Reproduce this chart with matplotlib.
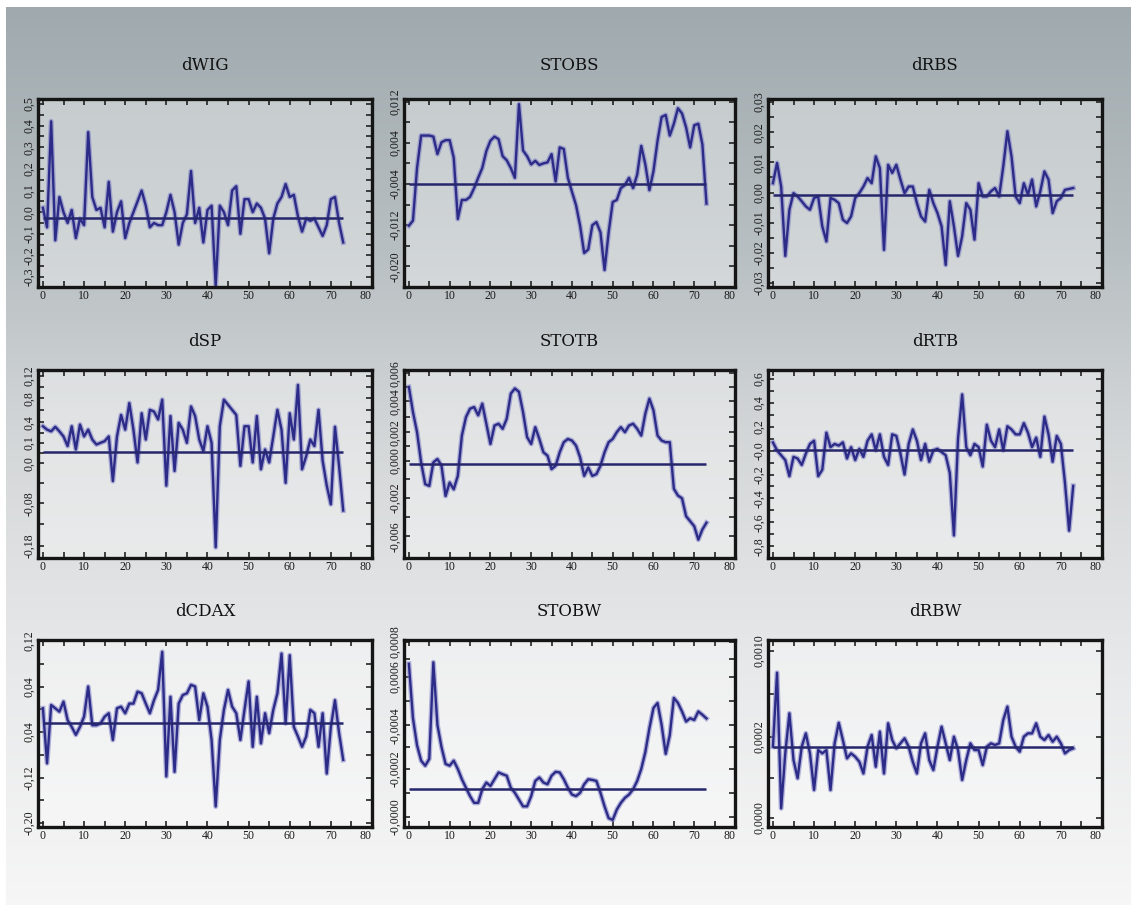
import numpy as np
import matplotlib.pyplot as plt

W, H = 1131, 905
plt.rcParams['font.family'] = ['DejaVu Serif']

# -----------------------------
# series (74 obs each)
# -----------------------------
dwig = [0.02, -0.07, 0.42, -0.13, 0.07, 0.00, -0.05, 0.01, -0.12, -0.03,
        -0.06, 0.37, 0.07, 0.01, 0.02, -0.07, 0.14, -0.09, 0.00, 0.05,
        -0.12, -0.05, 0.00, 0.05, 0.10, 0.03, -0.07, -0.05, -0.06, -0.06,
        0.00, 0.08, 0.00, -0.15, -0.05, -0.01, 0.19, -0.05, 0.02, -0.14,
        0.01, 0.03, -0.34, 0.03, 0.00, -0.06, 0.10, 0.12, -0.10, 0.06,
        0.06, 0.00, 0.04, 0.02, -0.03, -0.19, -0.03, 0.04, 0.07, 0.13,
        0.07, 0.08, -0.02, -0.09, -0.03, -0.04, -0.03, -0.07, -0.11, -0.06,
        0.06, 0.07, -0.05, -0.14]

stobs = [-0.0121, -0.0111, -0.0009, 0.0054, 0.0054, 0.0054, 0.0052, 0.0018, 0.0041, 0.0045,
         0.0045, 0.0011, -0.0108, -0.0071, -0.0071, -0.0065, -0.0048, -0.0028, -0.0009, 0.0024,
         0.0044, 0.0052, 0.0047, 0.0014, 0.0006, -0.0009, -0.0028, 0.0115, 0.0025, 0.0014,
         -0.0002, 0.0005, -0.0003, 0.0000, 0.0002, 0.0018, -0.0035, 0.0031, 0.0028, -0.0028,
         -0.0055, -0.0081, -0.0121, -0.0174, -0.0167, -0.0120, -0.0114, -0.0134, -0.0207, -0.0134,
         -0.0075, -0.0071, -0.0048, -0.0042, -0.0028, -0.0048, -0.0022, 0.0034, -0.0002, -0.0052,
         -0.0015, 0.0044, 0.0090, 0.0094, 0.0054, 0.0077, 0.0107, 0.0097, 0.0070, 0.0031,
         0.0074, 0.0077, 0.0037, -0.0078]

drbs = [0.0031, 0.0098, 0.0020, -0.0210, -0.0057, -0.0002, -0.0013, -0.0029, -0.0046, -0.0057,
        -0.0018, -0.0013, -0.0112, -0.0162, -0.0018, -0.0024, -0.0035, -0.0090, -0.0101, -0.0079,
        -0.0018, -0.0002, 0.0020, 0.0048, 0.0031, 0.0120, 0.0081, -0.0190, 0.0092, 0.0065,
        0.0092, 0.0043, -0.0002, 0.0020, 0.0020, -0.0035, -0.0079, -0.0096, 0.0009, -0.0035,
        -0.0068, -0.0112, -0.0240, -0.0029, -0.0112, -0.0210, -0.0145, -0.0035, -0.0057, -0.0156,
        0.0031, -0.0013, -0.0013, 0.0004, 0.0015, -0.0013, 0.0087, 0.0203, 0.0120, -0.0013,
        -0.0035, 0.0031, -0.0007, 0.0043, -0.0046, 0.0004, 0.0070, 0.0043, -0.0068, -0.0029,
        -0.0018, 0.0009, 0.0012, 0.0015]

dsp = [0.031, 0.025, 0.022, 0.030, 0.022, 0.013, -0.004, 0.031, -0.010, 0.034,
       0.013, 0.025, 0.0075, -0.0013, 0.0017, 0.0046, 0.013, -0.066, 0.013, 0.051,
       0.025, 0.072, 0.025, -0.033, 0.054, 0.0075, 0.060, 0.057, 0.043, 0.078,
       -0.074, 0.049, -0.048, 0.037, 0.025, 0.0017, 0.066, 0.049, 0.0075, -0.013,
       0.031, 0.0017, -0.183, 0.031, 0.078, 0.069, 0.060, 0.051, -0.039, 0.031,
       0.031, -0.033, 0.049, -0.045, -0.010, -0.033, 0.013, 0.060, 0.025, -0.069,
       0.054, 0.0075, 0.104, -0.045, -0.022, 0.0075, -0.004, 0.060, -0.030, -0.074,
       -0.107, 0.030, -0.040, -0.118]

stotb = [0.0050, 0.00315, 0.00167, -0.00056, -0.00216, -0.00229, -0.00056, -0.00031, -0.0008, -0.00303,
         -0.00204, -0.00254, -0.00155, 0.00142, 0.00278, 0.0034, 0.00352, 0.00291, 0.00377, 0.00229,
         0.0008, 0.00216, 0.00229, 0.00192, 0.00266, 0.00451, 0.00489, 0.00464, 0.00315, 0.0013,
         0.0008, 0.00204, 0.00117, 0.00019, -0.00006, -0.00105, -0.0008, 0.00019, 0.00093, 0.00117,
         0.00105, 0.00068, -0.00019, -0.00155, -0.00093, -0.00155, -0.00142, -0.0008, 0.00019, 0.00093,
         0.00117, 0.00167, 0.00204, 0.00167, 0.00216, 0.00229, 0.00192, 0.00142, 0.00303, 0.00414,
         0.00328, 0.00142, 0.00105, 0.00093, 0.00093, -0.0025, -0.0030, -0.0032, -0.00452, -0.00489,
         -0.00526, -0.00625, -0.0055, -0.0050]

drtb = [0.069, 0.002, -0.039, -0.079, -0.214, -0.052, -0.066, -0.12, -0.025, 0.056,
        0.083, -0.214, -0.16, 0.15, 0.029, 0.056, 0.042, 0.069, -0.066, 0.029,
        -0.079, 0.015, -0.052, 0.083, 0.136, 0.002, 0.136, -0.052, -0.12, 0.136,
        0.123, -0.025, -0.20, 0.056, 0.177, 0.083, -0.079, 0.056, -0.093, 0.002,
        0.015, -0.012, -0.039, -0.187, -0.71, 0.10, 0.47, 0.029, -0.039, 0.056,
        0.029, -0.133, 0.217, 0.083, 0.029, 0.177, 0.002, 0.204, 0.177, 0.136,
        0.136, 0.23, 0.15, 0.029, 0.109, -0.052, 0.285, 0.136, -0.093, 0.123,
        0.056, -0.27, -0.67, -0.295]

dcdax = [0.0017, -0.095, 0.0075, 0.0017, -0.0042, 0.0134, -0.019, -0.031, -0.045, -0.031,
         -0.013, 0.040, -0.028, -0.028, -0.025, -0.013, -0.007, -0.054, 0.0017, 0.0046,
         -0.007, 0.010, 0.010, 0.031, 0.028, 0.010, -0.007, 0.016, 0.034, 0.101,
         -0.118, 0.022, -0.110, 0.010, 0.025, 0.028, 0.043, 0.040, -0.019, 0.028,
         0.0046, -0.054, -0.171, -0.054, -0.001, 0.034, 0.0046, -0.007, -0.054, -0.001,
         0.049, -0.066, 0.022, -0.060, -0.007, -0.042, -0.001, 0.028, 0.098, -0.025,
         0.095, -0.031, -0.048, -0.066, -0.048, -0.001, -0.007, -0.066, -0.007, -0.113,
         -0.031, 0.016, -0.042, -0.089]

stobw = [0.00070, 0.000451, 0.000327, 0.000257, 0.000234, 0.000265, 0.000707, 0.00042, 0.000319, 0.000242,
         0.000234, 0.000257, 0.000219, 0.000172, 0.000133, 0.000095, 0.000064, 0.000064, 0.000126, 0.000157,
         0.000141, 0.000172, 0.000203, 0.000195, 0.000188, 0.000133, 0.00011, 0.000079, 0.000048, 0.000048,
         0.000095, 0.000164, 0.00018, 0.000157, 0.000149, 0.000188, 0.000206, 0.000203, 0.000172, 0.000133,
         0.000102, 0.000095, 0.00011, 0.000149, 0.000172, 0.000169, 0.000164, 0.00011, 0.000048, -0.000006,
         -0.000014, 0.000033, 0.000064, 0.000087, 0.000102, 0.000126, 0.000164, 0.000219, 0.000296, 0.000405,
         0.000498, 0.000521, 0.00042, 0.000288, 0.000374, 0.000544, 0.000521, 0.000482, 0.000436, 0.000451,
         0.000443, 0.000482, 0.000467, 0.00045]

drbw = [0.000427, 0.00087, 0.000058, 0.000387, 0.000627, 0.000347, 0.000238, 0.000427, 0.000507, 0.000387,
        0.000168, 0.000407, 0.000387, 0.000407, 0.000168, 0.000447, 0.00057, 0.000467, 0.000357, 0.000387,
        0.000367, 0.000337, 0.000267, 0.000427, 0.000497, 0.000307, 0.000517, 0.000267, 0.000567, 0.000467,
        0.000417, 0.000447, 0.000477, 0.000427, 0.000337, 0.000267, 0.000447, 0.000507, 0.000347, 0.000287,
        0.000427, 0.000547, 0.000447, 0.000347, 0.000487, 0.000407, 0.000228, 0.000347, 0.000447, 0.000407,
        0.000407, 0.000317, 0.000427, 0.000447, 0.000437, 0.000447, 0.000587, 0.000667, 0.000487, 0.000427,
        0.000397, 0.000487, 0.000507, 0.000507, 0.000567, 0.000487, 0.000467, 0.000497, 0.000457, 0.000487,
        0.000447, 0.000387, 0.000407, 0.000417]

names = ["dWIG", "STOBS", "dRBS", "dSP", "STOTB", "dRTB", "dCDAX", "STOBW", "dRBW"]
series = [dwig, stobs, drbs, dsp, stotb, drtb, dcdax, stobw, drbw]
# horizontal reference line of each panel
levels = [-0.026, -0.004, -0.0007, -0.0147, -0.00068, 0.007, -0.0247, 0.000129, 0.000427]

# y tick labels exactly as printed (the original has some odd ones)
ytick_pos = [
    [0.5, 0.4, 0.3, 0.2, 0.1, 0.0, -0.1, -0.2, -0.3],
    [0.012, 0.004, -0.004, -0.012, -0.020],
    [0.03, 0.02, 0.01, 0.0, -0.01, -0.02, -0.03],
    [0.12, 0.0807, 0.038, 0.0017, -0.0347, -0.105, -0.18],
    [0.006, 0.00395, 0.00167, -0.00043, -0.00315, -0.006],
    [0.6, 0.4, 0.2, 0.0, -0.2, -0.4, -0.6, -0.8],
    [0.12, 0.04, -0.04, -0.12, -0.20],
    [0.0008, 0.000642, 0.000419, 0.000219, 0.0],
    [0.0010, 0.000485, 0.0],
]
ytick_txt = [
    ["0,5", "0,4", "0,3", "0,2", "0,1", "0,0", "-0,1", "-0,2", "-0,3"],
    ["0,012", "0,004", "-0,004", "-0,012", "-0,020"],
    ["0,03", "0,02", "0,01", "0,00", "-0,01", "-0,02", "-0,03"],
    ["0,12", "0,8", "0,4", "0,1", "0,0", "-0,08", "-0,18"],
    ["0,006", "0,004", "0,002", "0,000", "-0,002", "-0,006"],
    ["0,6", "0,4", "0,2", "-0,0", "-0,2", "-0,4", "-0,6", "-0,8"],
    ["0,12", "0,04", "0,04", "-0,12", "-0,20"],
    ["0,0008", "0,0006", "-0,0004", "-0,0002", "-0,0000"],
    ["0,0010", "0,0002", "0,0000"],
]
ylims = [(-0.346, 0.523), (-0.024, 0.0125), (-0.0313, 0.031),
         (-0.202, 0.1305), (-0.0076, 0.00625), (-0.899, 0.675),
         (-0.207, 0.1218), (-0.0000465, 0.000809), (-0.0000539, 0.001066)]

# -----------------------------
# figure + background gradient
# -----------------------------
fig = plt.figure(figsize=(W / 100, H / 100), dpi=100)

stops_y = [8, 250, 450, 700, 900]
stops_c = np.array([[160, 170, 174], [184, 191, 194], [213, 216, 217],
                    [234, 235, 236], [246, 246, 246]]) / 255.0
rows = np.arange(H)
img = np.ones((H, W, 3))
for k in range(3):
    col = np.interp(rows, stops_y, stops_c[:, k])
    img[:, :, k] = col[:, None]
img[:8, :, :] = 1.0
img[:, :6, :] = 1.0
bg = fig.add_axes([0, 0, 1, 1], zorder=-10)
bg.imshow(img, aspect='auto', extent=(0, 1, 0, 1), interpolation='bilinear')
bg.set_xlim(0, 1)
bg.set_ylim(0, 1)
bg.set_axis_off()

col_px = [(38, 372), (404, 735), (768, 1102)]
row_px = [(99, 287), (370, 558), (640, 827)]
title_pad = [21, 17, 17]
tick_font = 'Liberation Serif'

for i, (name, vals) in enumerate(zip(names, series)):
    r, c = divmod(i, 3)
    l, rr = col_px[c]
    t, b = row_px[r]
    ax = fig.add_axes([l / W, 1 - b / H, (rr - l) / W, (b - t) / H])
    ax.set_facecolor((1, 1, 1, 0.35))

    x = np.arange(len(vals))
    ax.plot(x, vals, color='#7a7ac4', lw=3.6, alpha=0.55, solid_joinstyle='round')
    ax.plot(x, vals, color='#2c2c88', lw=1.7, solid_joinstyle='round')
    ax.hlines(levels[i], 0, x[-1], color='#26266c', lw=1.8)

    ax.set_xlim(-1.2, 80)
    ax.set_ylim(*ylims[i])
    ax.set_xticks(range(0, 81, 10))
    ax.set_xticks(range(5, 80, 10), minor=True)

    yp = ytick_pos[i]
    ax.set_yticks(yp, ytick_txt[i])
    ax.set_yticks([(a + bb) / 2 for a, bb in zip(yp[:-1], yp[1:])], minor=True)
    ax.tick_params(axis='y', labelrotation=90)

    ax.tick_params(which='both', direction='in', top=True, right=True,
                   length=4, width=1.2, color='#222222', labelsize=8.5,
                   labelcolor='#1a1a1a', pad=2)
    for lab in ax.get_xticklabels() + ax.get_yticklabels():
        lab.set_fontfamily(tick_font)
    for lab in ax.get_yticklabels():
        lab.set_verticalalignment('center')
    ax.get_xticklabels()[-1].set_horizontalalignment('right')

    for s in ax.spines.values():
        s.set_linewidth(2.4)
        s.set_color('#151515')

    ax.set_title(name, fontsize=12, color='#111111', pad=title_pad[r])

fig.savefig("out.png", dpi=100)
